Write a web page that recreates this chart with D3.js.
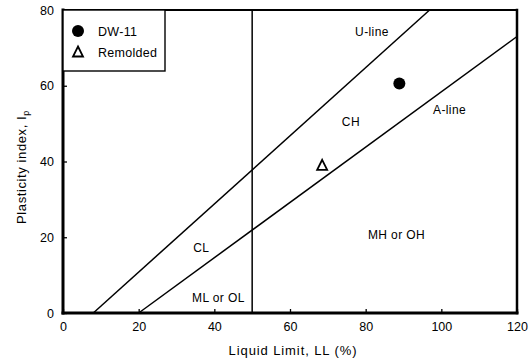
<!DOCTYPE html>
<html>
<head>
<meta charset="utf-8">
<script src="https://cdn.jsdelivr.net/npm/d3@7"></script>
<style>
  html, body { margin: 0; padding: 0; background: #fff; }
  svg { display: block; font-family: "Liberation Sans", Arial, Helvetica, sans-serif; }
  text { fill: #000; }
</style>
</head>
<body>
<svg id="chart" width="530" height="361"></svg>
<script>
// Plasticity chart (Casagrande): LL on x, PI on y
const xTicks = [0, 20, 40, 60, 80, 100, 120];
const yTicks = [0, 20, 40, 60, 80];

// Reference lines as [LL, PI] end points
const uLine = [[8, 0], [96.9, 80]];      // PI = 0.9 (LL - 8)
const aLine = [[20, 0], [120, 73]];      // PI = 0.73 (LL - 20)
const llDivide = [[50, 0], [50, 80]];

// Samples
const sampleNames = ["DW-11", "Remolded"];
const sampleLL = [88.9, 68.5];
const samplePI = [60.6, 39.0];
const sampleShapes = ["circle", "triangle"];

// Zone and line labels: text, LL, PI (baseline)
const labelText = ["U-line", "A-line", "CH", "CL", "ML or OL", "MH or OH"];
const labelLL = [77.2, 97.8, 73.7, 34.4, 34.1, 80.6];
const labelPI = [73.1, 52.5, 49.4, 16.1, 2.9, 19.5];

const svg = d3.select("#chart");
const x = d3.scaleLinear().domain([0, 120]).range([63, 517]);
const y = d3.scaleLinear().domain([0, 80]).range([313, 10]);

// inward ticks
svg.append("g")
  .attr("transform", `translate(0,${y(0)})`)
  .call(d3.axisBottom(x).tickValues(xTicks).tickSize(-4).tickPadding(9).tickFormat(d3.format("d")))
  .call(g => g.select(".domain").remove())
  .call(g => g.selectAll(".tick line").attr("stroke", "#000").attr("stroke-width", 1.3))
  .call(g => g.selectAll("text").attr("font-size", 12.5).attr("fill", "#000").attr("font-family", "Liberation Sans, Arial, sans-serif"));

svg.append("g")
  .attr("transform", `translate(${x(0)},0)`)
  .call(d3.axisLeft(y).tickValues(yTicks).tickSize(-4).tickPadding(9).tickFormat(d3.format("d")))
  .call(g => g.select(".domain").remove())
  .call(g => g.selectAll(".tick line").attr("stroke", "#000").attr("stroke-width", 1.3))
  .call(g => g.selectAll("text").attr("font-size", 12.5).attr("fill", "#000").attr("font-family", "Liberation Sans, Arial, sans-serif"));

// frame
const frame = svg.append("g").attr("stroke", "#000").attr("fill", "none").attr("stroke-linecap", "square");
frame.append("line").attr("x1", x(0)).attr("x2", x(120)).attr("y1", y(80)).attr("y2", y(80)).attr("stroke-width", 2);
frame.append("line").attr("x1", x(120)).attr("x2", x(120)).attr("y1", y(80)).attr("y2", y(0)).attr("stroke-width", 2.5);
frame.append("line").attr("x1", x(0)).attr("x2", x(120)).attr("y1", y(0)).attr("y2", y(0)).attr("stroke-width", 3);
frame.append("line").attr("x1", x(0)).attr("x2", x(0)).attr("y1", y(80)).attr("y2", y(0)).attr("stroke-width", 3);

// chart lines
const line = d3.line().x(d => x(d[0])).y(d => y(d[1]));
[uLine, aLine, llDivide].forEach(pts => {
  svg.append("path").attr("d", line(pts))
    .attr("fill", "none").attr("stroke", "#000").attr("stroke-width", 1.5);
});

// labels
svg.append("g").selectAll("text").data(labelText).join("text")
  .attr("x", (d, i) => x(labelLL[i]))
  .attr("y", (d, i) => y(labelPI[i]))
  .attr("font-size", 12)
  .attr("letter-spacing", 0.4)
  .text(d => d);

// markers
const triPath = size => {
  const h = size * 0.9, w = size;
  return `M0,${-h / 2 - 1}L${w / 2},${h / 2}L${-w / 2},${h / 2}Z`;
};
function drawMarker(g, shape, cx, cy) {
  if (shape === "circle") {
    g.append("circle").attr("cx", cx).attr("cy", cy).attr("r", 6).attr("fill", "#000");
  } else {
    g.append("path").attr("d", triPath(10)).attr("transform", `translate(${cx},${cy})`)
      .attr("fill", "none").attr("stroke", "#000").attr("stroke-width", 1.8).attr("stroke-linejoin", "miter");
  }
}
const pts = svg.append("g");
sampleNames.forEach((n, i) => drawMarker(pts, sampleShapes[i], x(sampleLL[i]), y(samplePI[i])));

// legend
const lg = svg.append("g");
lg.append("rect").attr("x", x(0)).attr("y", y(80)).attr("width", 102).attr("height", 61)
  .attr("fill", "#fff").attr("stroke", "#000").attr("stroke-width", 1.4);
sampleNames.forEach((n, i) => {
  const cy = y(80) + 21 + i * 21;
  drawMarker(lg, sampleShapes[i], x(0) + 15, cy);
  lg.append("text").attr("x", x(0) + 35).attr("y", cy + 4.5)
    .attr("font-size", 12.5).attr("letter-spacing", 0.3).text(n);
});

// axis titles
svg.append("text").attr("x", 293).attr("y", 355).attr("text-anchor", "middle")
  .attr("font-size", 13).attr("letter-spacing", 0.9).text("Liquid Limit, LL (%)");

const yt = svg.append("text").attr("transform", "translate(26,167) rotate(-90)")
  .attr("text-anchor", "middle").attr("font-size", 13).attr("letter-spacing", 0.6);
yt.append("tspan").text("Plasticity index, I");
yt.append("tspan").attr("font-size", 9).attr("dy", 3).text("p");
</script>
</body>
</html>
